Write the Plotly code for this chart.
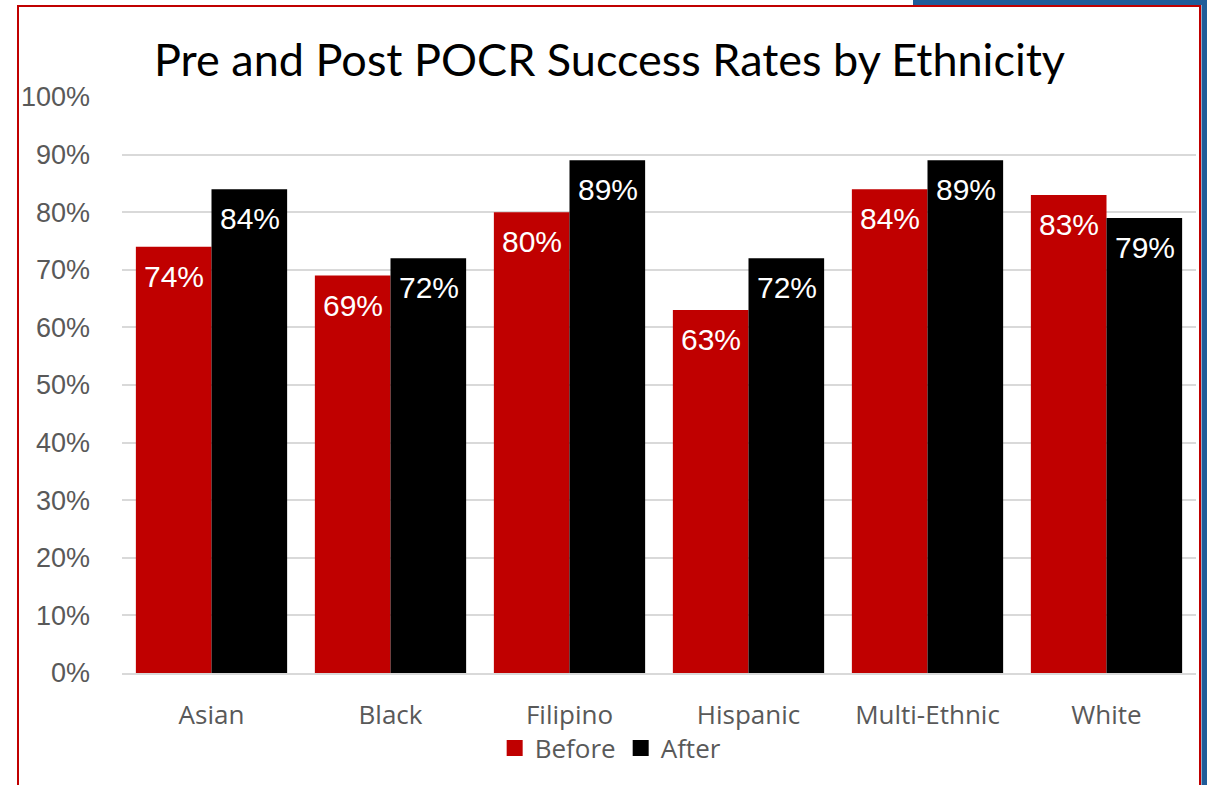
import plotly.graph_objects as go

categories = ["Asian", "Black", "Filipino", "Hispanic", "Multi-Ethnic", "White"]
before = [0.74, 0.69, 0.80, 0.63, 0.84, 0.83]
after = [0.84, 0.72, 0.89, 0.72, 0.89, 0.79]
series_names = ["Before", "After"]
series_colors = ["#C00000", "#000000"]
title_text = "Pre and Post POCR Success Rates by Ethnicity"

W, H = 1207, 785
L, R, T, B = 122, 11, 97, 112
PW, PH = W - L - R, H - T - B

def px(x):
    return (x - L) / PW

def py(y):
    return (H - B - y) / PH

fig = go.Figure()
annotations = []
offsets = [-38, 38]
for i, (name, vals) in enumerate(zip(series_names, [before, after])):
    col = series_colors[i]
    fig.add_trace(go.Bar(
        x=categories, y=vals, name=name, marker=dict(color=col, line=dict(width=0)),
        showlegend=False, hoverinfo="x+y",
    ))
    # legend proxy with larger square marker
    fig.add_trace(go.Scatter(
        x=[None], y=[None], mode="markers", name=name,
        marker=dict(symbol="square", size=18, color=col),
    ))
    for c, v in zip(categories, vals):
        annotations.append(dict(
            x=c, y=v, xref="x", yref="y", text=f"{round(v*100)}%", showarrow=False,
            xshift=offsets[i], yshift=-11, yanchor="top", xanchor="center",
            font=dict(color="white", size=30, family="Liberation Sans, Arial"),
        ))

shapes = [
    # blue accents
    dict(type="rect", xref="paper", yref="paper", x0=px(1201.5), x1=px(1220), y0=py(-5), y1=py(790),
         fillcolor="#1F5C99", line=dict(width=0), layer="above"),
    dict(type="rect", xref="paper", yref="paper", x0=px(913), x1=px(1220), y0=py(5), y1=py(-5),
         fillcolor="#1F5C99", line=dict(width=0), layer="above"),
    # red frame
    dict(type="rect", xref="paper", yref="paper", x0=px(18), x1=px(1200), y0=py(795), y1=py(6),
         fillcolor="rgba(0,0,0,0)", line=dict(color="#C00000", width=2), layer="above"),
]

fig.update_layout(
    width=W, height=H,
    margin=dict(l=L, r=R, t=T, b=B),
    paper_bgcolor="white", plot_bgcolor="white",
    barmode="group", bargap=0.155, bargroupgap=0,
    title=dict(text=title_text, x=0.505, xanchor="center", y=1 - 60 / H, yanchor="middle",
               font=dict(family="Lato, Open Sans, sans-serif", size=45, color="black")),
    xaxis=dict(showgrid=False, showline=True, linecolor="#D9D9D9", linewidth=2,
               ticks="", ticklabelstandoff=18,
               tickfont=dict(family="Open Sans, sans-serif", size=26, color="#595959")),
    yaxis=dict(range=[0, 1.0], dtick=0.1, tickformat=".0%", showgrid=True, gridcolor="#D9D9D9",
               gridwidth=1.5, zeroline=False, showline=False, ticks="", ticklabelstandoff=31,
               tickfont=dict(family="Liberation Sans, Arial", size=27, color="#595959")),
    legend=dict(orientation="h", x=0.455, xanchor="center", y=py(748), yanchor="middle",
                bgcolor="rgba(0,0,0,0)",
                font=dict(family="Open Sans, sans-serif", size=26, color="#595959"),
                itemwidth=30, tracegroupgap=0),
    annotations=annotations,
    shapes=shapes,
    showlegend=True,
)

fig.write_html("out.html", config={"displayModeBar": False},
               post_script="document.body.style.margin='0';document.body.style.overflow='hidden';")
